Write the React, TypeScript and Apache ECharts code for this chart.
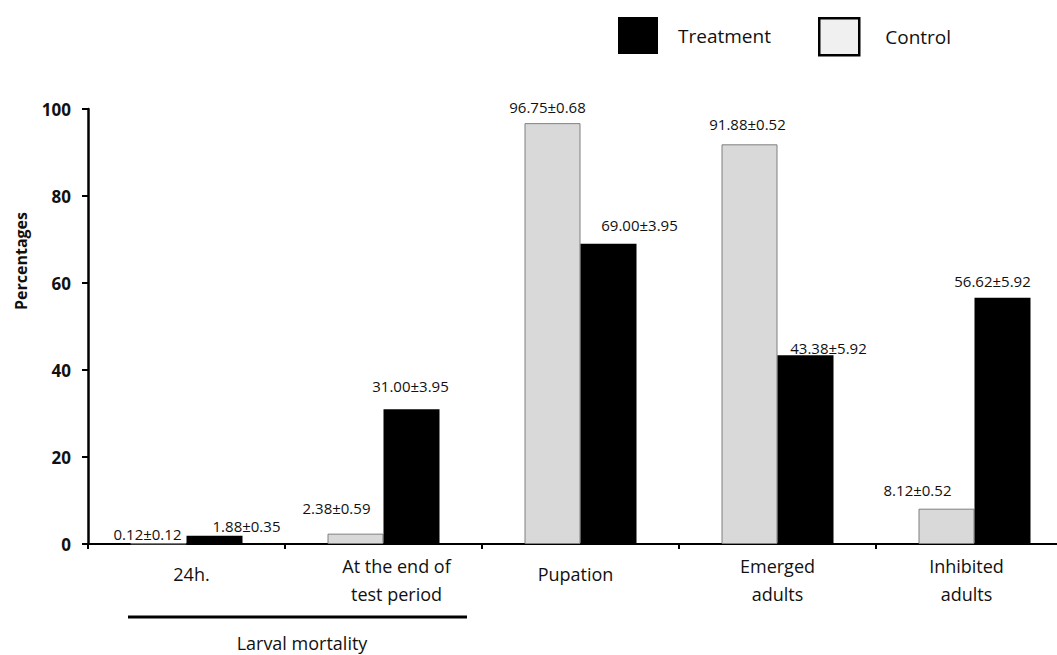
import React, { useEffect, useRef } from "react";
import * as echarts from "echarts";

// Stages measured in the bioassay
const categories = ["24h.", "At the end of\ntest period", "Pupation", "Emerged\nadults", "Inhibited\nadults"];
// Mean percentages
const controlValues = [0.12, 2.38, 96.75, 91.88, 8.12];
const treatmentValues = [1.88, 31.0, 69.0, 43.38, 56.62];
// Standard errors printed with each mean
const controlErrors = ["0.12", "0.59", "0.68", "0.52", "0.52"];
const treatmentErrors = ["0.35", "3.95", "3.95", "5.92", "5.92"];
const yTicks = [0, 20, 40, 60, 80, 100];

// Label nudges so the value text sits where it reads best over each bar
const controlLabelOffsets: [number, number][] = [[-11, 3], [-19, -13], [-5, -4], [-2, -8], [-29, -6]];
const treatmentLabelOffsets: [number, number][] = [[32, 3], [-1, -11], [31, -6], [23, 5], [-10, -4]];
// Per-category label padding [top, right, bottom, left]
const categoryPadding: number[][] = [[8, 0, 0, 10], [0, 0, 0, 26], [8, 10, 0, 0], [0, 0, 0, 0], [0, 16, 0, 0]];

const FONT = "'Open Sans', 'Noto Sans', sans-serif";

export default function App() {
  const ref = useRef<HTMLDivElement>(null);

  useEffect(() => {
    if (!ref.current) return;
    const chart = echarts.init(ref.current, null, { renderer: "svg" });

    const labelFor = (value: number, err: string, offset: [number, number]) => ({
      value,
      label: {
        show: true,
        position: "top",
        offset,
        formatter: `${value.toFixed(2)}±${err}`,
      },
    });

    chart.setOption({
      animation: false,
      backgroundColor: "#ffffff",
      textStyle: { fontFamily: FONT },
      legend: [
        {
          left: 618,
          top: 17,
          padding: 0,
          itemWidth: 40,
          itemHeight: 37,
          selectedMode: false,
          textStyle: { fontSize: 19, color: "#111", padding: [0, 0, 0, 15], fontFamily: FONT },
          data: [{ name: "Treatment", icon: "rect", itemStyle: { color: "#000000" } }],
        },
        {
          left: 818,
          top: 17,
          padding: 0,
          itemWidth: 40,
          itemHeight: 37,
          selectedMode: false,
          textStyle: { fontSize: 19, color: "#111", padding: [0, 0, 0, 21], fontFamily: FONT },
          data: [
            {
              name: "Control",
              icon: "rect",
              itemStyle: { color: "#f0f0f0", borderColor: "#000000", borderWidth: 2.5 },
            },
          ],
        },
      ],
      // The plot runs past the right edge of the page, so the canvas is wider than the window
      grid: { left: 88, right: 0, top: 109, bottom: 111, containLabel: false },
      xAxis: {
        type: "category",
        data: categories.map((c, i) => ({ value: c, textStyle: { padding: categoryPadding[i] } })),
        axisLine: { lineStyle: { color: "#000", width: 2 } },
        axisTick: { show: true, length: 5, lineStyle: { color: "#000", width: 2 } },
        axisLabel: {
          interval: 0,
          margin: 8,
          fontSize: 18,
          lineHeight: 28,
          color: "#111",
          fontFamily: FONT,
        },
      },
      yAxis: {
        type: "value",
        min: 0,
        max: 100,
        interval: 20,
        axisLine: { show: true, lineStyle: { color: "#000", width: 2.5 } },
        axisTick: { show: true, length: 6, lineStyle: { color: "#000", width: 2 } },
        splitLine: { show: false },
        axisLabel: {
          margin: 17,
          fontSize: 17,
          fontWeight: "bold",
          color: "#111",
          fontFamily: FONT,
          formatter: (v: number) => (yTicks.includes(v) ? String(v) : ""),
        },
      },
      series: [
        {
          name: "Control",
          type: "bar",
          barWidth: 56,
          barGap: "0%",
          itemStyle: { color: "#d9d9d9", borderColor: "#7f7f7f", borderWidth: 1 },
          label: { fontSize: 15, color: "#111", fontFamily: FONT },
          data: controlValues.map((v, i) => labelFor(v, controlErrors[i], controlLabelOffsets[i])),
        },
        {
          name: "Treatment",
          type: "bar",
          barWidth: 56,
          barGap: "0%",
          itemStyle: { color: "#000000" },
          label: { fontSize: 15, color: "#111", fontFamily: FONT },
          data: treatmentValues.map((v, i) => labelFor(v, treatmentErrors[i], treatmentLabelOffsets[i])),
        },
      ],
      graphic: [
        {
          type: "text",
          x: 21,
          y: 261,
          rotation: Math.PI / 2,
          style: {
            text: "Percentages",
            fontSize: 16,
            fontWeight: "bold",
            fontFamily: FONT,
            fill: "#111",
            align: "center",
            verticalAlign: "middle",
          },
        },
        {
          type: "line",
          shape: { x1: 128, y1: 617, x2: 467, y2: 617 },
          style: { stroke: "#000", lineWidth: 3 },
        },
        {
          type: "text",
          x: 302,
          y: 643,
          style: {
            text: "Larval mortality",
            fontSize: 18,
            fontFamily: FONT,
            fill: "#111",
            align: "center",
            verticalAlign: "middle",
          },
        },
      ],
    });

    return () => chart.dispose();
  }, []);

  return (
    <div
      ref={ref}
      style={{ position: "fixed", left: 0, top: 0, width: 1073, height: 655 }}
    />
  );
}
